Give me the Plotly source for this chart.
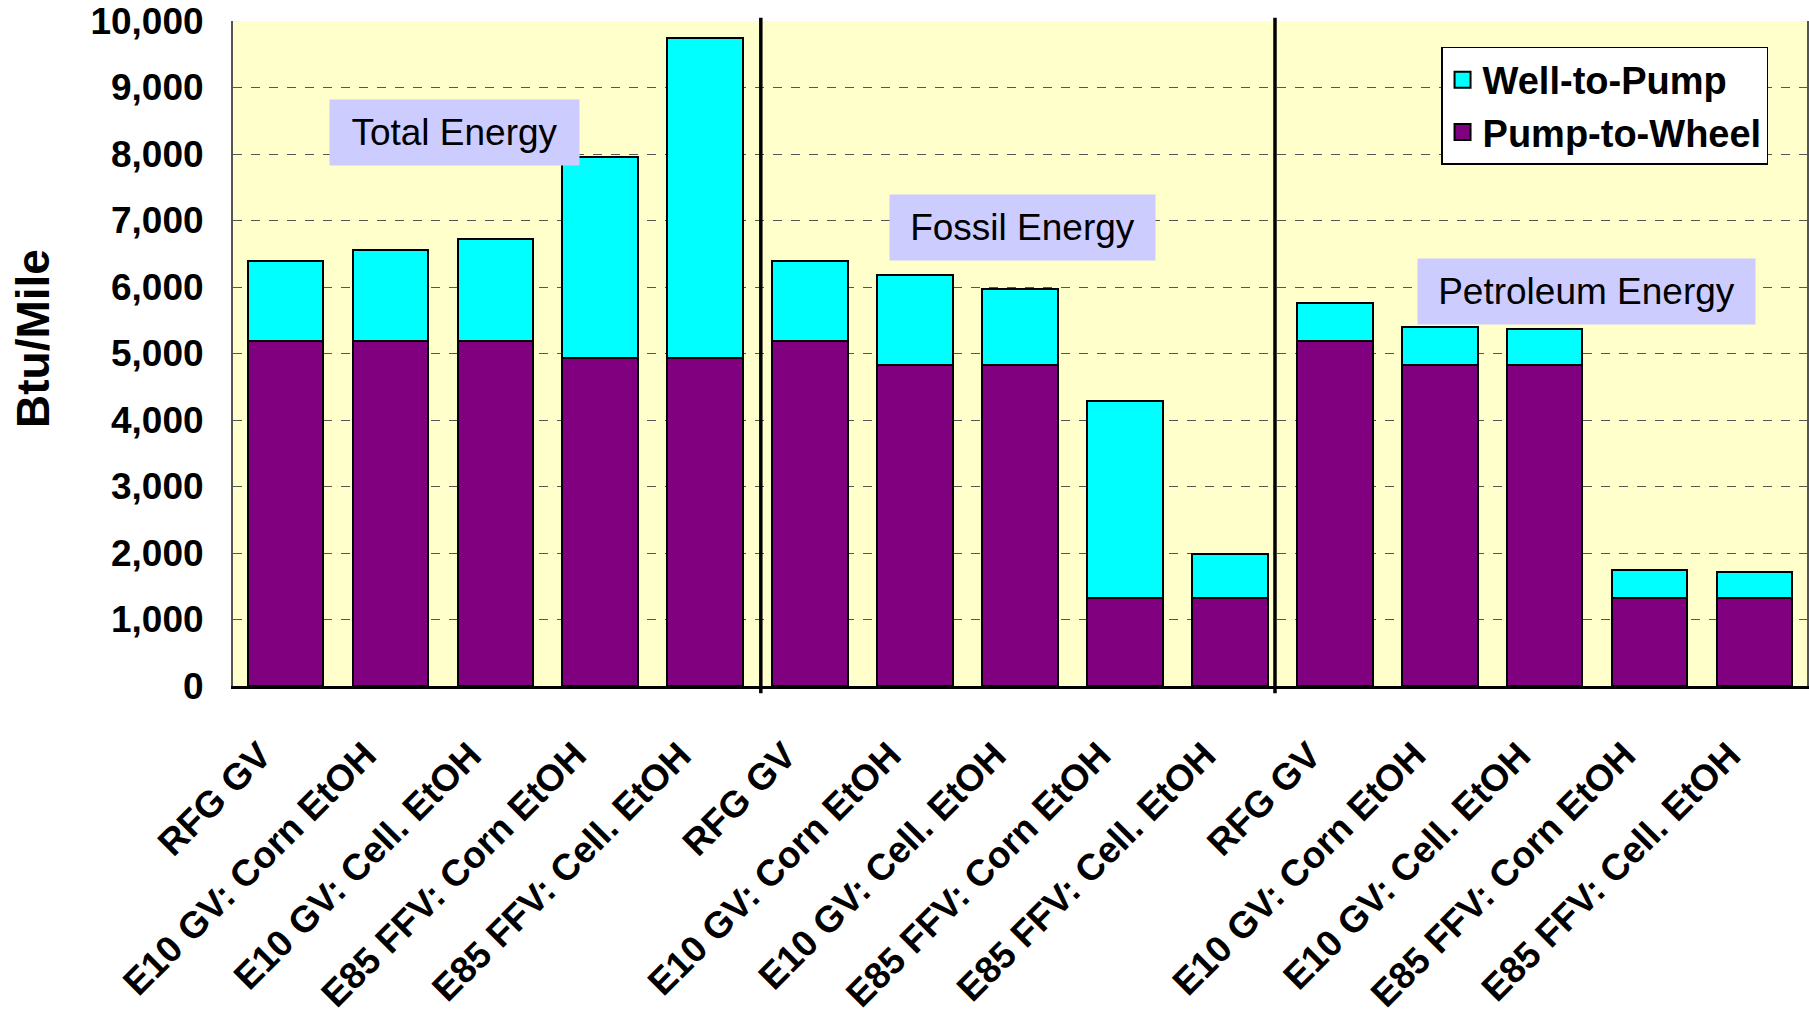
import plotly.graph_objects as go

# ---- data ----
categories = [
    "RFG GV", "E10 GV: Corn EtOH", "E10 GV: Cell. EtOH", "E85 FFV: Corn EtOH", "E85 FFV: Cell. EtOH",
    "RFG GV", "E10 GV: Corn EtOH", "E10 GV: Cell. EtOH", "E85 FFV: Corn EtOH", "E85 FFV: Cell. EtOH",
    "RFG GV", "E10 GV: Corn EtOH", "E10 GV: Cell. EtOH", "E85 FFV: Corn EtOH", "E85 FFV: Cell. EtOH",
]
group_names = ["Total Energy", "Fossil Energy", "Petroleum Energy"]
pump_to_wheel = [5190, 5190, 5190, 4925, 4925,
                 5190, 4830, 4830, 1320, 1320,
                 5190, 4830, 4830, 1320, 1320]
well_to_pump = [1200, 1360, 1530, 3025, 4825,
                1205, 1350, 1140, 2970, 670,
                570, 570, 540, 420, 390]
y_ticks = [0, 1000, 2000, 3000, 4000, 5000, 6000, 7000, 8000, 9000, 10000]
y_title = "Btu/Mile"

x_pos = list(range(len(categories)))

FONT = "Liberation Sans, Arial, sans-serif"
C_PTW = "#800080"
C_WTP = "#00FFFF"

fig = go.Figure()
fig.add_trace(go.Bar(
    x=x_pos, y=pump_to_wheel, name="Pump-to-Wheel", showlegend=False,
    marker=dict(color=C_PTW, line=dict(color="black", width=2)),
    width=0.72,
))
fig.add_trace(go.Bar(
    x=x_pos, y=well_to_pump, name="Well-to-Pump", showlegend=False,
    marker=dict(color=C_WTP, line=dict(color="black", width=2)),
    width=0.72,
))
# legend entries (larger square keys)
for nm, col in (("Well-to-Pump", C_WTP), ("Pump-to-Wheel", C_PTW)):
    fig.add_trace(go.Scatter(
        x=[None], y=[None], mode="markers", name=nm,
        marker=dict(symbol="square", size=16, color=col, line=dict(color="black", width=2)),
    ))

# group dividers
for xd in (4.53, 9.43):
    fig.add_shape(type="line", xref="x", yref="paper", x0=xd, x1=xd, y0=-0.011, y1=1.005,
                  line=dict(color="black", width=3.5), layer="above")

# group labels
label_pos = [(1.61, 8330, 229), (7.02, 6900, 245), (12.4, 5935, 317)]
for name, (ax, ay, w) in zip(group_names, label_pos):
    fig.add_annotation(x=ax, y=ay, xref="x", yref="y", text=name, showarrow=False,
                       font=dict(family=FONT, size=37, color="black"),
                       bgcolor="#CCCCFF", borderpad=10, width=w, height=45)

# y axis title
fig.add_annotation(x=-0.127, y=0.522, xref="paper", yref="paper", text=y_title,
                   showarrow=False, textangle=-90, xanchor="center", yanchor="middle",
                   font=dict(family=FONT, size=46, color="black", weight="bold"))

fig.update_layout(
    width=1809, height=1025,
    margin=dict(l=233, r=2, t=21, b=339),
    paper_bgcolor="white", plot_bgcolor="#FFFFCC",
    barmode="stack", bargap=0.28,
    showlegend=True,
    legend=dict(
        x=0.7675, y=0.961, xanchor="left", yanchor="top",
        traceorder="normal",
        bgcolor="white", bordercolor="black", borderwidth=1.5,
        font=dict(family=FONT, size=38, color="black", weight="bold"),
        itemwidth=30,
    ),
    font=dict(family=FONT, color="black"),
)

fig.update_xaxes(
    range=[-0.5, len(categories) - 0.5],
    tickmode="array", tickvals=x_pos, ticktext=categories,
    tickangle=-45,
    tickfont=dict(family=FONT, size=37, color="black", weight="bold"),
    ticklabelstandoff=30, ticklabelshift=-25,
    showline=True, linecolor="black", linewidth=2.5,
    mirror=False, showgrid=False, zeroline=False, ticks="",
    automargin=False,
)
fig.update_yaxes(
    range=[0, 10000],
    tickmode="array", tickvals=y_ticks, tickformat=",",
    tickfont=dict(family=FONT, size=37, color="black", weight="bold"),
    ticklabelstandoff=20, ticklabeloverflow="allow",
    showline=True, linecolor="#555555", linewidth=2, mirror=True,
    showgrid=True, gridcolor="#555555", gridwidth=1.3, griddash="dash",
    zeroline=False, ticks="",
    automargin=False,
)

fig.write_html("out.html",
               config={"displayModeBar": False},
               post_script="document.body.style.margin='0';document.body.style.overflow='hidden';")
